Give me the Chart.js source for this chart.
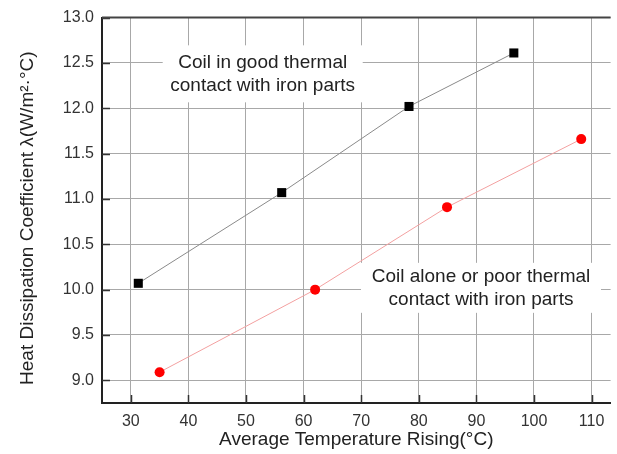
<!DOCTYPE html>
<html>
<head>
<meta charset="utf-8">
<script src="https://cdn.jsdelivr.net/npm/chart.js@4"></script>
<style>
  body { margin: 0; background: #fff; }
  #wrap { width: 617px; height: 454px; }
</style>
</head>
<body>
<div id="wrap"><canvas id="chart" width="617" height="454"></canvas></div>
<script>
// data
const goodTemp = [31.3, 56.2, 78.3, 96.5];
const goodCoef = [10.07, 11.07, 12.02, 12.61];
const poorTemp = [35.0, 62.0, 84.9, 108.2];
const poorCoef = [9.09, 10.0, 10.91, 11.66];

const xTicks = [30, 40, 50, 60, 70, 80, 90, 100, 110];
const yTicks = [9.0, 9.5, 10.0, 10.5, 11.0, 11.5, 12.0, 12.5, 13.0];

const noteGood = ['Coil in good thermal', 'contact with iron parts'];
const notePoor = ['Coil alone or poor thermal', 'contact with iron parts'];

// where the notes sit (in data units) and how big their white boxes are
const notes = [
    { lines: noteGood, x: 52.9, y: 12.38, w: 200, h: 57 },
    { lines: notePoor, x: 90.8, y: 10.02, w: 240, h: 50 }
];

const toPoints = (xs, ys) => xs.map((x, i) => ({ x: x, y: ys[i] }));

const FONT = "'Liberation Sans', Arial, sans-serif";

// inside tick marks, top frame line and text boxes
const extras = {
    id: 'extras',
    beforeDatasetsDraw(chart) {
        const ctx = chart.ctx;
        const xs = chart.scales.x, ys = chart.scales.y;
        ctx.save();
        ctx.font = '19px ' + FONT;
        ctx.textAlign = 'center';
        ctx.textBaseline = 'middle';
        notes.forEach(n => {
            const cx = xs.getPixelForValue(n.x);
            const cy = ys.getPixelForValue(n.y);
            ctx.fillStyle = '#fff';
            ctx.fillRect(cx - n.w / 2, cy - n.h / 2, n.w, n.h);
            ctx.fillStyle = '#222';
            ctx.fillText(n.lines[0], cx, cy - 11.5);
            ctx.fillText(n.lines[1], cx, cy + 11.5);
        });
        ctx.restore();
    },
    afterDraw(chart) {
        const ctx = chart.ctx;
        const area = chart.chartArea;
        const xs = chart.scales.x, ys = chart.scales.y;
        ctx.save();
        ctx.strokeStyle = '#333';
        ctx.lineWidth = 1.5;
        ctx.beginPath();
        xs.ticks.forEach(t => {
            const px = Math.round(xs.getPixelForValue(t.value)) + 0.5;
            ctx.moveTo(px, area.bottom);
            ctx.lineTo(px, area.bottom - 8);
        });
        ys.ticks.forEach(t => {
            const py = Math.round(ys.getPixelForValue(t.value)) + 0.5;
            ctx.moveTo(area.left, py);
            ctx.lineTo(area.left + 8, py);
        });
        ctx.stroke();
        ctx.strokeStyle = '#444';
        ctx.lineWidth = 2;
        ctx.beginPath();
        ctx.moveTo(area.left, area.top);
        ctx.lineTo(area.right, area.top);
        ctx.stroke();
        ctx.restore();
    }
};

new Chart(document.getElementById('chart'), {
    type: 'scatter',
    data: {
        datasets: [
            {
                label: 'good contact',
                data: toPoints(goodTemp, goodCoef),
                showLine: true,
                borderColor: '#8a8a8a',
                borderWidth: 1,
                pointStyle: 'rect',
                pointRadius: 6.4,
                pointBackgroundColor: '#000',
                pointBorderColor: '#000',
                pointBorderWidth: 0
            },
            {
                label: 'poor contact',
                data: toPoints(poorTemp, poorCoef),
                showLine: true,
                borderColor: '#f3a0a0',
                borderWidth: 1,
                pointStyle: 'circle',
                pointRadius: 5,
                pointBackgroundColor: '#ff0000',
                pointBorderColor: '#ff0000',
                pointBorderWidth: 0
            }
        ]
    },
    options: {
        responsive: false,
        animation: false,
        clip: false,
        layout: { padding: { top: 17, right: 0, left: 0, bottom: 0 } },
        plugins: {
            legend: { display: false },
            tooltip: { enabled: false }
        },
        scales: {
            x: {
                type: 'linear',
                min: 25,
                max: 113.3,
                afterBuildTicks: s => { s.ticks = xTicks.map(v => ({ value: v })); },
                afterFit: s => { s.height = 51; s.paddingLeft = 0; s.paddingRight = 0; },
                grid: { color: '#a8a8a8', lineWidth: 1, drawTicks: false },
                border: { color: '#222', width: 2 },
                ticks: {
                    padding: 9,
                    color: '#333',
                    font: { family: FONT, size: 16 },
                    callback: v => String(v)
                },
                title: {
                    display: true,
                    text: 'Average Temperature Rising(°C)',
                    color: '#222',
                    font: { family: FONT, size: 19 },
                    padding: { top: 0, bottom: 3 }
                }
            },
            y: {
                type: 'linear',
                min: 8.75,
                max: 13.0,
                afterBuildTicks: s => { s.ticks = yTicks.map(v => ({ value: v })); },
                afterFit: s => { s.width = 102; },
                grid: { color: '#a8a8a8', lineWidth: 1, drawTicks: false },
                border: { color: '#222', width: 2 },
                ticks: {
                    padding: 8,
                    color: '#333',
                    font: { family: FONT, size: 16 },
                    callback: v => Number(v).toFixed(1)
                },
                title: {
                    display: true,
                    text: 'Heat Dissipation Coefficient λ(W/m²·°C)   ',
                    color: '#222',
                    font: { family: FONT, size: 19 },
                    padding: { top: 16, bottom: 0 }
                }
            }
        }
    },
    plugins: [extras]
});
</script>
</body>
</html>
